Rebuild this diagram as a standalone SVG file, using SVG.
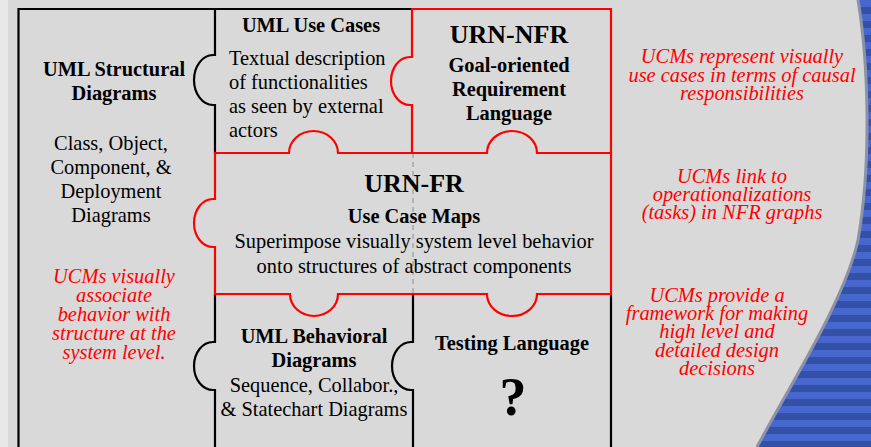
<svg xmlns="http://www.w3.org/2000/svg" width="871" height="447" viewBox="0 0 871 447">
  <style>
    .blk { fill: none; stroke: #000; stroke-width: 2.2; }
    .red { fill: none; stroke: #f00; stroke-width: 2.2; }
    .t { font-family: "Liberation Serif", "Times New Roman", serif; fill: #000; }
    .b { font-weight: bold; font-size: 20.4px; }
    .r { font-size: 20.4px; }
    .big { font-weight: bold; font-size: 26px; }
    .note { font-family: "Liberation Serif", "Times New Roman", serif; font-style: italic; font-size: 20.4px; fill: #f00; }
    .mid { text-anchor: middle; }
  </style>
  <defs>
    <pattern id="stripes" x="0" y="0" width="20" height="14" patternUnits="userSpaceOnUse">
      <rect width="20" height="14" fill="#4767cf"/>
      <rect y="7" width="20" height="7" fill="#3451a8"/>
    </pattern>
  </defs>

  <!-- slide background -->
  <rect width="871" height="447" fill="#d9d9d9"/>
  <rect width="8" height="447" fill="#e8e8e8"/>
  <!-- striped blue band on the right -->
  <path d="M858,0 C868,60 872,160 858,240 C845,300 790,385 757,447 L871,447 L871,0 Z" fill="url(#stripes)"/>
  <path d="M858,0 C868,60 872,160 858,240 C845,300 790,385 757,447" fill="none" stroke="#8d93a6" stroke-width="3"/>

  <!-- connectors: piece borders -->
  <g id="connectors">
    <!-- faint dashed seam under the centre piece -->
    <path d="M413,153 V294" fill="none" stroke="#8c8c8c" stroke-width="1" stroke-dasharray="5,4"/>
    <!-- black outer frame and seams -->
    <path class="blk" d="M18.5,447 V9 H412"/>
    <path class="blk" d="M215,9 V55 h-2 A19,25 0 0 0 213,105 h2 V153"/>
    <path class="blk" d="M215,294 V342 h-2 A19,24 0 0 0 213,390 h2 V447"/>
    <path class="blk" d="M413,294 V342 h-2 A19,24 0 0 0 411,390 h2 V447"/>
    <path class="blk" d="M611,294 V447"/>
    <!-- red outlines: URN-NFR and URN-FR pieces -->
    <path class="red" d="M412,153 V105 h-2 A19,24 0 0 1 410,57 h2 V9 H611 V153"/>
    <path class="red" d="M215,153 H289 A24.5,22 0 0 1 338,153 H487 A25,22 0 0 1 537,153 H611 V294 H537 A25,22 0 0 1 487,294 H338 A24,22 0 0 1 290,294 H215 V247 h-2 A19,24 0 0 1 213,199 h2 Z"/>
  </g>

  <g id="uml-structural">
    <text class="t b mid" x="114" y="76">UML Structural</text>
    <text class="t b mid" x="114" y="100">Diagrams</text>
    <text class="t r mid" x="111" y="150">Class, Object,</text>
    <text class="t r mid" x="111" y="174">Component, &amp;</text>
    <text class="t r mid" x="111" y="198">Deployment</text>
    <text class="t r mid" x="111" y="222">Diagrams</text>
    <text class="note mid" x="114" y="283">UCMs visually</text>
    <text class="note mid" x="114" y="302">associate</text>
    <text class="note mid" x="114" y="321">behavior with</text>
    <text class="note mid" x="114" y="340">structure at the</text>
    <text class="note mid" x="114" y="359">system level.</text>
  </g>

  <g id="uml-use-cases">
    <text class="t b mid" x="311" y="32">UML Use Cases</text>
    <text class="t r" x="229" y="65">Textual description</text>
    <text class="t r" x="229" y="89">of functionalities</text>
    <text class="t r" x="229" y="113">as seen by external</text>
    <text class="t r" x="229" y="137">actors</text>
  </g>

  <g id="urn-nfr">
    <text class="t big mid" x="509" y="43">URN-NFR</text>
    <text class="t b mid" x="509" y="72">Goal-oriented</text>
    <text class="t b mid" x="509" y="96">Requirement</text>
    <text class="t b mid" x="509" y="120">Language</text>
  </g>

  <g id="urn-fr">
    <text class="t big mid" x="414" y="192">URN-FR</text>
    <text class="t b mid" x="414" y="223">Use Case Maps</text>
    <text class="t r mid" x="414" y="248">Superimpose visually system level behavior</text>
    <text class="t r mid" x="414" y="273">onto structures of abstract components</text>
  </g>

  <g id="uml-behavioral">
    <text class="t b mid" x="314" y="343">UML Behavioral</text>
    <text class="t b mid" x="314" y="367">Diagrams</text>
    <text class="t r mid" x="314" y="392">Sequence, Collabor.,</text>
    <text class="t r mid" x="314" y="416">&amp; Statechart Diagrams</text>
  </g>

  <g id="testing-language">
    <text class="t b mid" x="512" y="350">Testing Language</text>
    <text class="t mid" x="513" y="415" font-weight="bold" font-size="54">?</text>
  </g>

  <g id="notes-right">
    <text class="note mid" x="742" y="63">UCMs represent visually</text>
    <text class="note mid" x="742" y="82">use cases in terms of causal</text>
    <text class="note mid" x="742" y="100">responsibilities</text>
    <text class="note mid" x="732" y="183">UCMs link to</text>
    <text class="note mid" x="732" y="201">operationalizations</text>
    <text class="note mid" x="732" y="219">(tasks) in NFR graphs</text>
    <text class="note mid" x="717" y="302">UCMs provide a</text>
    <text class="note mid" x="717" y="320">framework for making</text>
    <text class="note mid" x="717" y="338">high level and</text>
    <text class="note mid" x="717" y="357">detailed design</text>
    <text class="note mid" x="717" y="375">decisions</text>
  </g>
</svg>
